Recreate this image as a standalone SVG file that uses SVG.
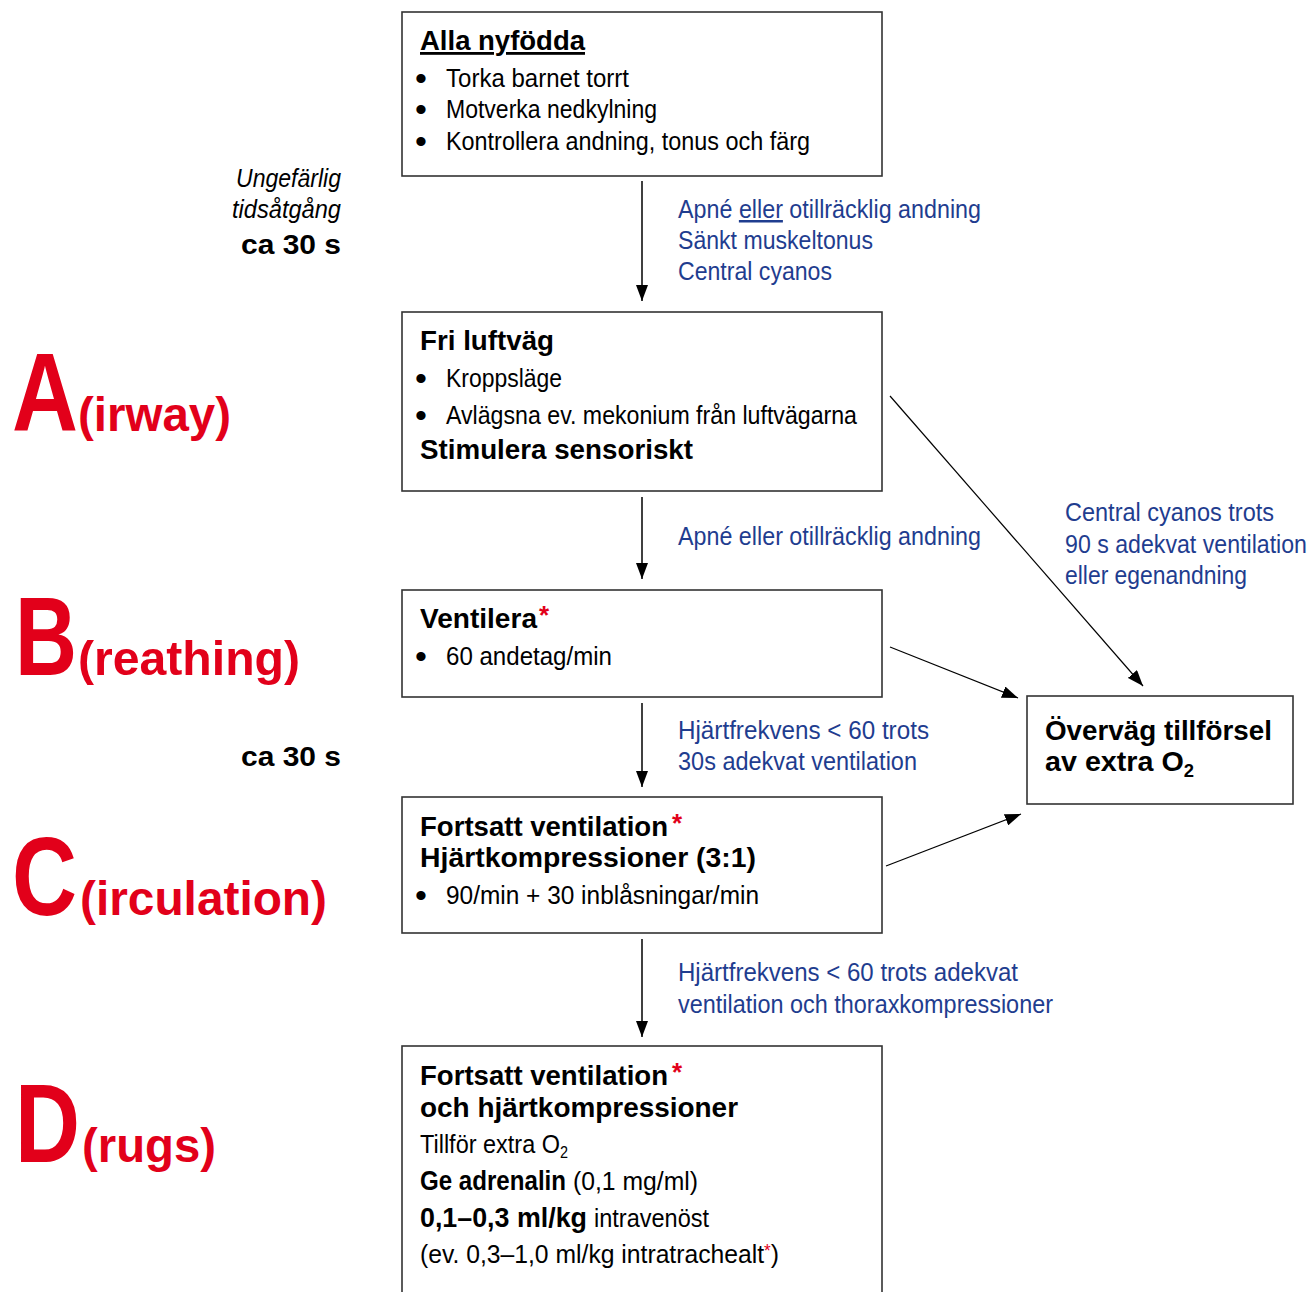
<svg xmlns="http://www.w3.org/2000/svg" width="1315" height="1292" viewBox="0 0 1315 1292">
<style>
  text { font-family: "Liberation Sans Narrow", "Liberation Sans", Arial, sans-serif; }
  .box { fill: #ffffff; stroke: #333333; stroke-width: 1.6; }
  .t { font-size: 26px; fill: #000000; }
  .bul { font-size: 34px; fill: #000000; }
  .b { font-size: 28px; font-weight: bold; fill: #000000; }
  .lbl { font-size: 25px; fill: #1f3d8f; }
  .red { fill: #e2001a; font-weight: bold; }
  .big { font-size: 112px; }
  .paren { font-size: 48px; }
  .conn { stroke: #000000; stroke-width: 1.5; fill: none; marker-end: url(#arr); }
  .diag { stroke: #000000; stroke-width: 1.2; fill: none; marker-end: url(#arr); }
</style>
<defs>
  <marker id="arr" markerUnits="userSpaceOnUse" markerWidth="17" markerHeight="12" refX="16" refY="6" orient="auto">
    <path d="M0,0 L16,6 L0,12 Z" fill="#000000"/>
  </marker>
</defs>
<rect x="0" y="0" width="1315" height="1292" fill="#ffffff"/>

<g id="side-labels">
  <text x="236" y="187" class="t" font-style="italic" font-size="23" textLength="105" lengthAdjust="spacingAndGlyphs">Ungefärlig</text>
  <text x="232" y="218" class="t" font-style="italic" font-size="23" textLength="109" lengthAdjust="spacingAndGlyphs">tidsåtgång</text>
  <text x="241" y="254" class="b" font-size="26" textLength="100" lengthAdjust="spacingAndGlyphs">ca 30 s</text>
  <text x="241" y="766" class="b" font-size="26" textLength="100" lengthAdjust="spacingAndGlyphs">ca 30 s</text>

  <text x="12" y="431" class="red big" textLength="66" lengthAdjust="spacingAndGlyphs">A</text>
  <text x="78" y="431" class="red paren" textLength="153" lengthAdjust="spacingAndGlyphs">(irway)</text>
  <text x="15" y="675" class="red big" textLength="62" lengthAdjust="spacingAndGlyphs">B</text>
  <text x="78" y="675" class="red paren" textLength="222" lengthAdjust="spacingAndGlyphs">(reathing)</text>
  <text x="12" y="915" class="red big" textLength="65" lengthAdjust="spacingAndGlyphs">C</text>
  <text x="80" y="915" class="red paren" textLength="247" lengthAdjust="spacingAndGlyphs">(irculation)</text>
  <text x="15" y="1162" class="red big" textLength="65" lengthAdjust="spacingAndGlyphs">D</text>
  <text x="82" y="1162" class="red paren" textLength="134" lengthAdjust="spacingAndGlyphs">(rugs)</text>
</g>

<g id="connectors">
  <line x1="642" y1="181" x2="642" y2="301" class="conn"/>
  <line x1="642" y1="497" x2="642" y2="579" class="conn"/>
  <line x1="642" y1="703" x2="642" y2="787" class="conn"/>
  <line x1="642" y1="939" x2="642" y2="1037" class="conn"/>
  <line x1="890" y1="396" x2="1143" y2="686" class="diag"/>
  <line x1="890" y1="647" x2="1018" y2="698" class="diag"/>
  <line x1="886" y1="866" x2="1021" y2="814" class="diag"/>
</g>

<g id="connector-labels">
  <text x="678" y="218" class="lbl" textLength="303" lengthAdjust="spacingAndGlyphs">Apné <tspan text-decoration="underline">eller</tspan> otillräcklig andning</text>
  <text x="678" y="249" class="lbl" textLength="195" lengthAdjust="spacingAndGlyphs">Sänkt muskeltonus</text>
  <text x="678" y="280" class="lbl" textLength="154" lengthAdjust="spacingAndGlyphs">Central cyanos</text>

  <text x="678" y="545" class="lbl" textLength="303" lengthAdjust="spacingAndGlyphs">Apné eller otillräcklig andning</text>

  <text x="678" y="739" class="lbl" textLength="251" lengthAdjust="spacingAndGlyphs">Hjärtfrekvens &lt; 60 trots</text>
  <text x="678" y="770" class="lbl" textLength="239" lengthAdjust="spacingAndGlyphs">30s adekvat ventilation</text>

  <text x="678" y="981" class="lbl" textLength="340" lengthAdjust="spacingAndGlyphs">Hjärtfrekvens &lt; 60 trots adekvat</text>
  <text x="678" y="1013" class="lbl" textLength="375" lengthAdjust="spacingAndGlyphs">ventilation och thoraxkompressioner</text>

  <text x="1065" y="521" class="lbl" textLength="209" lengthAdjust="spacingAndGlyphs">Central cyanos trots</text>
  <text x="1065" y="553" class="lbl" textLength="242" lengthAdjust="spacingAndGlyphs">90 s adekvat ventilation</text>
  <text x="1065" y="584" class="lbl" textLength="182" lengthAdjust="spacingAndGlyphs">eller egenandning</text>
</g>

<g id="node-alla">
  <rect x="402" y="12" width="480" height="164" class="box"/>
  <text x="420" y="50" class="b" text-decoration="underline" textLength="165" lengthAdjust="spacingAndGlyphs">Alla nyfödda</text>
  <text x="415" y="90" class="bul">•</text>
  <text x="446" y="87" class="t" textLength="183" lengthAdjust="spacingAndGlyphs">Torka barnet torrt</text>
  <text x="415" y="121" class="bul">•</text>
  <text x="446" y="118" class="t" textLength="211" lengthAdjust="spacingAndGlyphs">Motverka nedkylning</text>
  <text x="415" y="153" class="bul">•</text>
  <text x="446" y="150" class="t" textLength="364" lengthAdjust="spacingAndGlyphs">Kontrollera andning, tonus och färg</text>
</g>

<g id="node-airway">
  <rect x="402" y="312" width="480" height="179" class="box"/>
  <text x="420" y="350" class="b" textLength="134" lengthAdjust="spacingAndGlyphs">Fri luftväg</text>
  <text x="415" y="390" class="bul">•</text>
  <text x="446" y="387" class="t" textLength="116" lengthAdjust="spacingAndGlyphs">Kroppsläge</text>
  <text x="415" y="427" class="bul">•</text>
  <text x="446" y="424" class="t" textLength="411" lengthAdjust="spacingAndGlyphs">Avlägsna ev. mekonium från luftvägarna</text>
  <text x="420" y="459" class="b" textLength="273" lengthAdjust="spacingAndGlyphs">Stimulera sensoriskt</text>
</g>

<g id="node-ventilera">
  <rect x="402" y="590" width="480" height="107" class="box"/>
  <text x="420" y="628" class="b" textLength="117" lengthAdjust="spacingAndGlyphs">Ventilera</text>
  <text x="539" y="624" class="red" font-size="26">*</text>
  <text x="415" y="668" class="bul">•</text>
  <text x="446" y="665" class="t" textLength="166" lengthAdjust="spacingAndGlyphs">60 andetag/min</text>
</g>

<g id="node-circulation">
  <rect x="402" y="797" width="480" height="136" class="box"/>
  <text x="420" y="836" class="b" textLength="248" lengthAdjust="spacingAndGlyphs">Fortsatt ventilation</text>
  <text x="672" y="832" class="red" font-size="26">*</text>
  <text x="420" y="867" class="b" textLength="336" lengthAdjust="spacingAndGlyphs">Hjärtkompressioner (3:1)</text>
  <text x="415" y="907" class="bul">•</text>
  <text x="446" y="904" class="t" textLength="313" lengthAdjust="spacingAndGlyphs">90/min + 30 inblåsningar/min</text>
</g>

<g id="node-drugs">
  <rect x="402" y="1046" width="480" height="300" class="box"/>
  <text x="420" y="1085" class="b" textLength="248" lengthAdjust="spacingAndGlyphs">Fortsatt ventilation</text>
  <text x="672" y="1081" class="red" font-size="26">*</text>
  <text x="420" y="1117" class="b" textLength="318" lengthAdjust="spacingAndGlyphs">och hjärtkompressioner</text>
  <text x="420" y="1153" class="t" font-size="25" textLength="148" lengthAdjust="spacingAndGlyphs">Tillför extra O<tspan font-size="16" dy="5">2</tspan></text>
  <text x="420" y="1190" class="b" font-size="26" textLength="146" lengthAdjust="spacingAndGlyphs">Ge adrenalin</text>
  <text x="573" y="1190" class="t" font-size="25" textLength="125" lengthAdjust="spacingAndGlyphs">(0,1 mg/ml)</text>
  <text x="420" y="1227" class="b" font-size="26" textLength="167" lengthAdjust="spacingAndGlyphs">0,1–0,3 ml/kg</text>
  <text x="594" y="1227" class="t" font-size="25" textLength="115" lengthAdjust="spacingAndGlyphs">intravenöst</text>
  <text x="420" y="1263" class="t" font-size="25" textLength="359" lengthAdjust="spacingAndGlyphs">(ev. 0,3–1,0 ml/kg intratrachealt<tspan fill="#e2001a" font-size="18" dy="-6">*</tspan><tspan dy="6">)</tspan></text>
</g>

<g id="node-oxygen">
  <rect x="1027" y="696" width="266" height="108" class="box"/>
  <text x="1045" y="740" class="b" font-size="27" textLength="227" lengthAdjust="spacingAndGlyphs">Överväg tillförsel</text>
  <text x="1045" y="771" class="b" font-size="27" textLength="149" lengthAdjust="spacingAndGlyphs">av extra O<tspan font-size="18" dy="6">2</tspan></text>
</g>
</svg>
